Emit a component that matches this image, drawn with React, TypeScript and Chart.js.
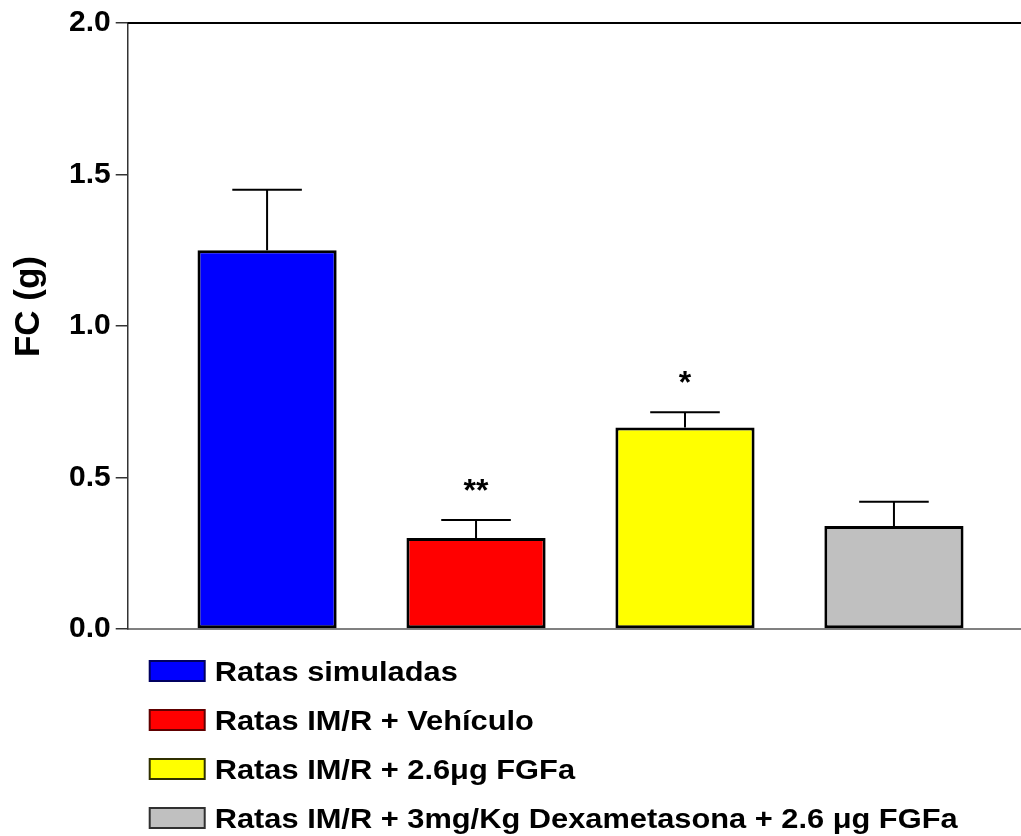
import { useEffect, useRef } from 'react';
import { Chart, registerables } from 'chart.js';

Chart.register(...registerables);

// ---- Data ----
const categories = [
  'Ratas simuladas',
  'Ratas IM/R + Vehículo',
  'Ratas IM/R + 2.6μg FGFa',
  'Ratas IM/R + 3mg/Kg Dexametasona + 2.6 μg FGFa',
];
const means = [1.25, 0.3, 0.665, 0.34];
const sems = [0.2, 0.06, 0.05, 0.08];
const significance = ['', '**', '*', ''];
const barColors = ['#0000FF', '#FF0000', '#FFFF00', '#C0C0C0'];
const legendBorderColors = ['#000060', '#600000', '#303000', '#303030'];
const yTickValues = [0, 0.5, 1.0, 1.5, 2.0];
const yAxisTitle = '    FC (g)';

const FONT = '"Liberation Sans", Arial, Helvetica, sans-serif';

const errorBarPlugin = {
  id: 'errorBars',
  afterDatasetsDraw(chart: any) {
    const ctx = chart.ctx;
    const yScale = chart.scales.y;
    const meta = chart.getDatasetMeta(0);
    ctx.save();
    meta.data.forEach((el: any, i: number) => {
      const x = el.x;
      const yTop = el.y;
      const yErr = yScale.getPixelForValue(means[i] + sems[i]);
      const hw = el.width / 4;
      ctx.strokeStyle = '#000';
      ctx.lineWidth = 2;
      ctx.beginPath();
      ctx.moveTo(x, yTop);
      ctx.lineTo(x, yErr);
      ctx.moveTo(x - hw, yErr);
      ctx.lineTo(x + hw, yErr);
      ctx.stroke();
      if (significance[i]) {
        ctx.fillStyle = '#000';
        ctx.font = `bold 32px ${FONT}`;
        ctx.textAlign = 'center';
        ctx.textBaseline = 'alphabetic';
        ctx.fillText(significance[i], x, yErr - 19);
      }
    });
    ctx.restore();
  },
};

const frameAndLegendPlugin = {
  id: 'frameAndLegend',
  afterDraw(chart: any) {
    const ctx = chart.ctx;
    const area = chart.chartArea;
    ctx.save();
    // top frame line
    ctx.strokeStyle = '#000';
    ctx.lineWidth = 2;
    ctx.beginPath();
    ctx.moveTo(area.left, area.top);
    ctx.lineTo(area.right, area.top);
    ctx.stroke();

    // legend
    const fontSize = 28;
    const boxW = 55;
    const boxH = 20;
    categories.forEach((label, i) => {
      const cy = area.bottom + 42 + i * 49;
      const bx = area.left + 22;
      ctx.fillStyle = barColors[i];
      ctx.fillRect(bx, cy - boxH / 2, boxW, boxH);
      ctx.strokeStyle = legendBorderColors[i];
      ctx.lineWidth = 2;
      ctx.strokeRect(bx, cy - boxH / 2, boxW, boxH);
      ctx.save();
      ctx.translate(bx + boxW + 10, cy + 0.358 * fontSize);
      ctx.scale(1.1, 1);
      ctx.fillStyle = '#000';
      ctx.font = `bold ${fontSize}px ${FONT}`;
      ctx.textAlign = 'left';
      ctx.textBaseline = 'alphabetic';
      ctx.fillText(label, 0, 0);
      ctx.restore();
    });
    ctx.restore();
  },
};

export default function App() {
  const canvasRef = useRef<HTMLCanvasElement | null>(null);

  useEffect(() => {
    document.body.style.margin = '0';
    const canvas = canvasRef.current;
    if (!canvas) return;
    const chart = new Chart(canvas, {
      type: 'bar',
      data: {
        datasets: [
          {
            data: means.map((m, i) => ({ x: i, y: m })),
            backgroundColor: barColors,
            borderColor: '#000',
            borderWidth: 3,
            borderSkipped: false,
            barPercentage: 0.666,
            categoryPercentage: 1,
          } as any,
        ],
      },
      options: {
        animation: false,
        responsive: false,
        devicePixelRatio: 1,
        events: [],
        layout: { padding: { top: 23, right: 0, bottom: 207, left: 0 } },
        plugins: {
          legend: { display: false },
          tooltip: { enabled: false },
        },
        scales: {
          x: {
            type: 'linear',
            min: -0.667,
            max: 3.608,
            offset: false,
            afterBuildTicks: (s: any) => {
              s.ticks = categories.map((_, i) => ({ value: i }));
            },
            ticks: { display: false },
            grid: { drawOnChartArea: false, drawTicks: false, display: true },
            border: { display: true, color: '#808080', width: 2 },
          },
          y: {
            type: 'linear',
            min: 0,
            max: 2,
            afterBuildTicks: (s: any) => {
              s.ticks = yTickValues.map((v) => ({ value: v }));
            },
            ticks: {
              callback: (v: any) => Number(v).toFixed(1),
              color: '#000',
              font: { family: FONT, size: 30, weight: 'bold' },
              padding: 5,
            },
            grid: {
              drawOnChartArea: false,
              drawTicks: true,
              tickLength: 12,
              color: '#333',
              lineWidth: 1.5,
            },
            border: { display: true, color: '#333', width: 1.5 },
            title: {
              display: true,
              text: yAxisTitle,
              color: '#000',
              font: { family: FONT, size: 35, weight: 'bold' },
              padding: { top: 8, bottom: 14 },
            },
          },
        },
      } as any,
      plugins: [errorBarPlugin, frameAndLegendPlugin],
    });
    return () => chart.destroy();
  }, []);

  return (
    <div style={{ width: 1021, height: 836 }}>
      <canvas ref={canvasRef} width={1021} height={836} style={{ display: 'block' }} />
    </div>
  );
}
